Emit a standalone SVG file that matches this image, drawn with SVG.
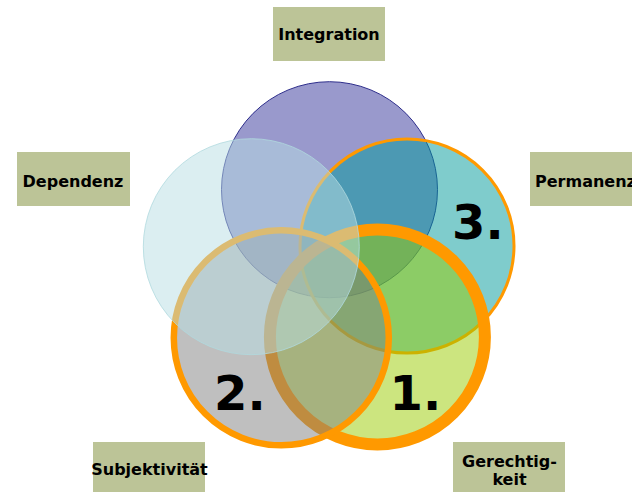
<svg xmlns="http://www.w3.org/2000/svg" width="632" height="492" viewBox="0 0 632 492">
<defs>
<style>
.box{fill:#bcc497;}
.lbl{font-family:"DejaVu Sans","Verdana",sans-serif;font-weight:bold;font-size:16px;fill:#000;}
.num{font-family:"DejaVu Sans","Verdana",sans-serif;font-weight:bold;font-size:48px;fill:#000;}
.c{fill-opacity:0.5;}
</style>
</defs>
<rect width="632" height="492" fill="#ffffff"/>
<g id="circles">
<g id="circle-integration"><circle class="c" cx="329.5" cy="189.7" r="108" fill="#333399" stroke="#2e2e8c" stroke-width="1"/></g>
<g id="circle-3-permanenz"><circle class="c" cx="407" cy="246" r="107" fill="#009999" stroke="#ff9900" stroke-width="3"/></g>
<g id="circle-1-gerechtigkeit"><circle class="c" cx="377.4" cy="337" r="107.5" fill="#99cc00" stroke="#ff9900" stroke-width="12"/></g>
<g id="circle-2-subjektivitaet"><circle class="c" cx="281.3" cy="337.8" r="107.5" fill="#808080" stroke="#ff9900" stroke-width="6.5"/></g>
<g id="circle-dependenz"><circle class="c" cx="251.3" cy="246.7" r="108" fill="#b7dde3" stroke="#b0dadf" stroke-width="1" stroke-opacity="0.8"/></g>
</g>
<g id="numbers">
<text class="num" x="452" y="238.5">3.</text>
<text class="num" x="214" y="410">2.</text>
<text class="num" x="389.5" y="410">1.</text>
</g>
<g id="connectors"></g>
<g id="label-integration"><rect class="box" x="273" y="7" width="112" height="54"/><text class="lbl" x="329" y="40" text-anchor="middle">Integration</text></g>
<g id="label-dependenz"><rect class="box" x="17" y="152" width="113" height="54"/><text class="lbl" x="73" y="187" text-anchor="middle">Dependenz</text></g>
<g id="label-permanenz"><rect class="box" x="530" y="152" width="110" height="54"/><text class="lbl" x="535" y="187">Permanenz</text></g>
<g id="label-subjektivitaet"><rect class="box" x="93" y="442" width="112" height="54"/><text class="lbl" x="149.5" y="475" text-anchor="middle">Subjektivität</text></g>
<g id="label-gerechtigkeit"><rect class="box" x="453" y="442" width="112" height="54"/><text class="lbl" x="509.5" y="466.5" text-anchor="middle">Gerechtig-</text><text class="lbl" x="509.5" y="484.5" text-anchor="middle">keit</text></g>
</svg>
